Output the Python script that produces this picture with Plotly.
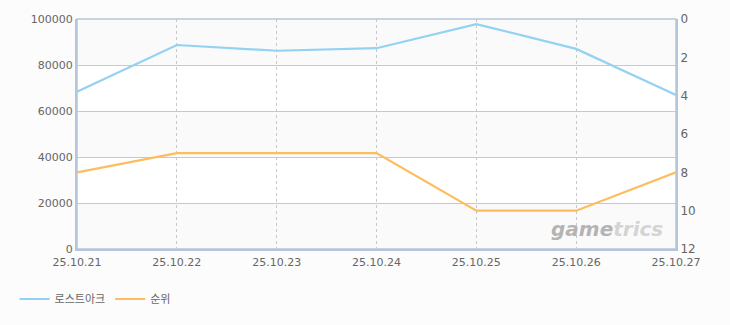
import plotly.graph_objects as go

dates = ["25.10.21", "25.10.22", "25.10.23", "25.10.24", "25.10.25", "25.10.26", "25.10.27"]
users = [68400, 88700, 86200, 87300, 97800, 87000, 67000]
rank = [8, 7, 7, 7, 10, 10, 8]
left_ticks = [0, 20000, 40000, 60000, 80000, 100000]
right_ticks = [0, 2, 4, 6, 8, 10, 12]

BLUE = "#93d2f2"
ORANGE = "#fdbd5e"
AXIS = "#b4c6da"
GRID = "#c8c8c8"
TXT = "#666666"
FONT = "DejaVu Sans, Noto Sans CJK KR, sans-serif"

fig = go.Figure()
fig.add_trace(go.Scatter(x=dates, y=users, name="로스트아크", mode="lines",
                         line=dict(color=BLUE, width=2.2), yaxis="y"))
fig.add_trace(go.Scatter(x=dates, y=rank, name="순위", mode="lines",
                         line=dict(color=ORANGE, width=2.2), yaxis="y2"))

# alternating white bands
shapes = []
for lo in (20000, 60000):
    shapes.append(dict(type="rect", xref="paper", yref="y", x0=0, x1=1, y0=lo, y1=lo + 20000,
                       fillcolor="#ffffff", line_width=0, layer="below"))
# frame
shapes.append(dict(type="rect", xref="paper", yref="paper", x0=0, x1=1, y0=0, y1=1,
                   line=dict(color=AXIS, width=1.5), fillcolor="rgba(0,0,0,0)", layer="above"))

fig.update_layout(
    width=730, height=325,
    margin=dict(l=77, r=54, t=16, b=76),
    paper_bgcolor="#fcfcfc",
    plot_bgcolor="#fafafa",
    font=dict(family=FONT, size=11, color=TXT),
    showlegend=True,
    legend=dict(orientation="h", x=0.02, xref="container", y=0.08, yref="container",
                yanchor="middle", xanchor="left", font=dict(size=11, color=TXT),
                bgcolor="rgba(0,0,0,0)", itemwidth=30),
    xaxis=dict(type="category", range=[0, 6], showgrid=True, gridcolor=GRID, griddash="3px,3px",
               gridwidth=1, showline=True, linecolor=AXIS, linewidth=2, ticks="",
               ticklabelstandoff=2,
               tickfont=dict(size=11, color=TXT), zeroline=False),
    yaxis=dict(range=[0, 100000], tickvals=left_ticks, ticktext=[str(v) for v in left_ticks],
               showgrid=True, gridcolor=GRID, gridwidth=1, showline=True, linecolor=AXIS,
               linewidth=2, ticks="", zeroline=False, tickfont=dict(size=11, color=TXT)),
    yaxis2=dict(range=[12, 0], tickvals=right_ticks, overlaying="y", side="right",
                showgrid=False, showline=True, linecolor=AXIS, linewidth=2, ticks="",
                zeroline=False, tickfont=dict(size=12, color=TXT)),
    shapes=shapes,
    annotations=[dict(text="<b><i><span style='color:#b4b4b4'>game</span>"
                           "<span style='color:#d4d4d4'>trics</span></i></b>",
                      xref="paper", yref="paper",
                      x=0.982, y=0.025, xanchor="right", yanchor="bottom", showarrow=False,
                      font=dict(size=20, color="#c0c0c0", family="DejaVu Sans"))],
)

fig.write_html("out.html")
